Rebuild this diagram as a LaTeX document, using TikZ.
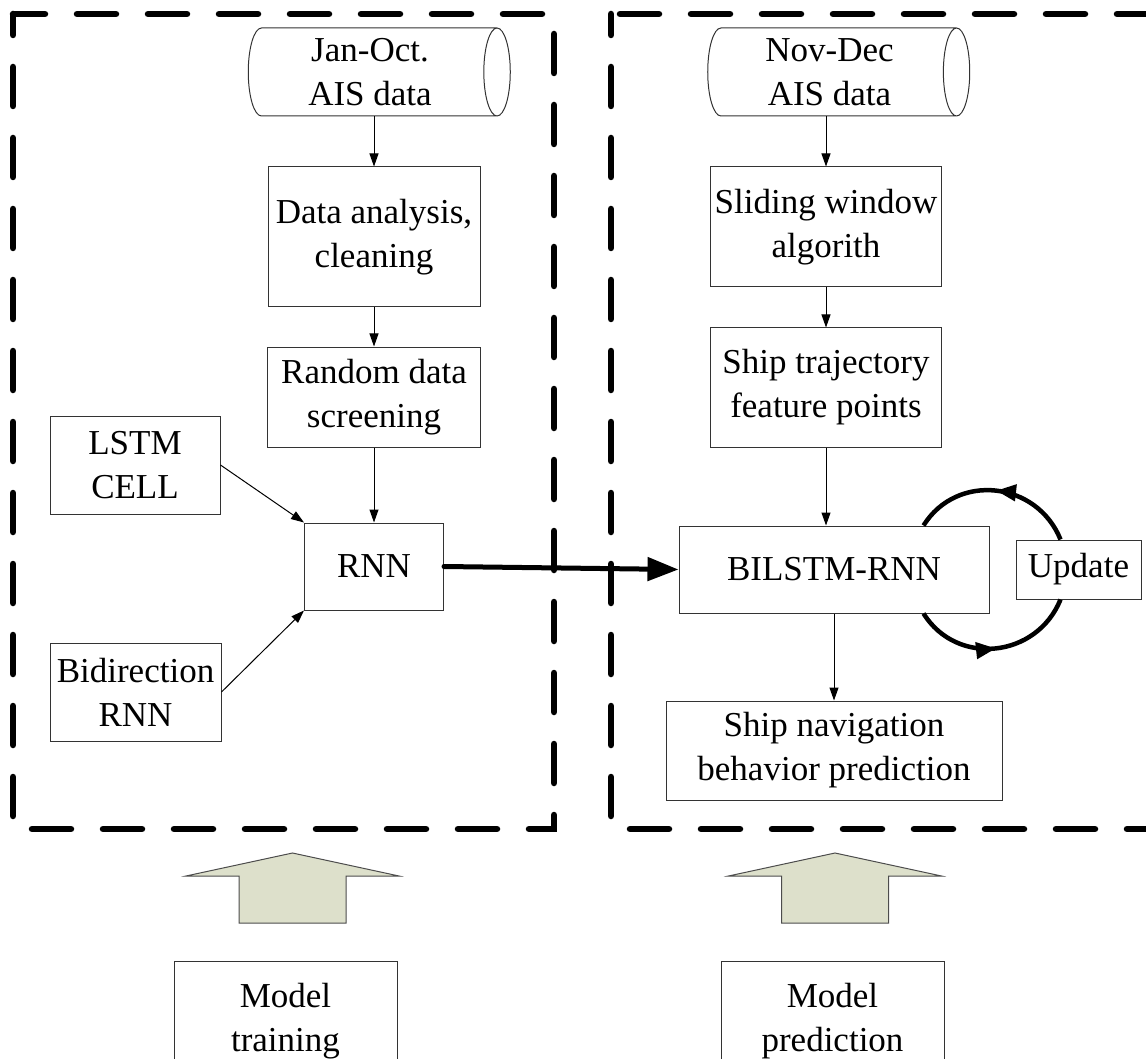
\documentclass[tikz,border=0pt]{standalone}
\usepackage{fontspec}
\setmainfont{Liberation Serif}
\usetikzlibrary{arrows.meta,shapes.geometric,decorations.markings}
\definecolor{armfill}{RGB}{221,224,203}

\tikzset{
  box/.style={draw=black!80, line width=1pt, align=center, inner sep=3pt,
    font=\fontsize{35}{44}\selectfont},
  dbase/.style={box, cylinder, aspect=0.36, minimum width=88pt, minimum height=262pt},
  flow/.style={-{Triangle[length=13pt,width=9pt]}, line width=1pt},
  bigflow/.style={-{Triangle[length=31pt,width=23pt]}, line width=5pt, line cap=round},
  loopline/.style={line width=4.5pt, postaction={decorate},
    decoration={markings, mark=at position 0.5 with {\arrow{Triangle[length=20pt,width=16pt]}}}},
  stage/.style={line width=6.5pt, line cap=round, dash pattern=on 39pt off 32pt, dash phase=18pt},
  blockarr/.style={draw=black!70, line width=1pt, fill=armfill},
}

\begin{document}
\begin{tikzpicture}[x=1pt,y=1pt]
\useasboundingbox (0,0) rectangle (1146,-1059);

% the two stages
\draw[stage] (13,-14) rectangle (554,-829);
\draw[stage] (611,-14) rectangle (1160,-829);

% training side
\node[dbase] (jan) at (370,-72) {Jan-Oct.\\AIS data};
\node[box, minimum width=212pt, minimum height=140pt] (clean) at (374,-237) {Data analysis,\\cleaning};
\node[box, minimum width=213pt, minimum height=100pt] (screen) at (374,-397) {Random data\\screening};
\node[box, minimum width=170pt, minimum height=98pt] (lstm) at (135,-465) {LSTM\\CELL};
\node[box, minimum width=171pt, minimum height=98pt] (bidir) at (135.5,-692) {Bidirection\\RNN};
\node[box, minimum width=139pt, minimum height=87pt] (rnn) at (374,-566.5) {RNN};

\draw[flow] (clean.north |- jan.south) -- (clean.north);
\draw[flow] (clean.south) -- (screen.north);
\draw[flow] (screen.south) -- (rnn.north);
\draw[flow] (lstm.east) -- (rnn.north west);
\draw[flow] (bidir.east) -- (rnn.south west);

% prediction side
\node[dbase] (nov) at (829.5,-72) {Nov-Dec\\AIS data};
\node[box, minimum width=231pt, minimum height=120pt] (slide) at (826,-227) {Sliding window\\algorith};
\node[box, minimum width=231pt, minimum height=119pt] (traj) at (826,-387.5) {Ship trajectory\\feature points};
\node[box, minimum width=310pt, minimum height=87pt] (bilstm) at (834,-569.5) {BILSTM-RNN};
\node[box, minimum width=125pt, minimum height=59pt] (update) at (1078.5,-569.5) {Update};
\node[box, minimum width=336pt, minimum height=99pt] (nav) at (834,-750.5) {Ship navigation\\behavior prediction};

\draw[flow] (slide.north |- nov.south) -- (slide.north);
\draw[flow] (slide.south) -- (traj.north);
\draw[flow] (traj.south) -- (traj.south |- bilstm.north);
\draw[flow] (bilstm.south) -- (bilstm.south |- nav.north);

\draw[bigflow] (rnn.east) -- (bilstm.west);

% update loop
\draw[loopline] ([xshift=-18pt]update.north) to[out=112, in=58, looseness=1.17] ([xshift=-66pt]bilstm.north east);
\draw[loopline] ([xshift=-66pt]bilstm.south east) to[out=-58, in=-112, looseness=1.17] ([xshift=-18pt]update.south);

% stage labels
\foreach \cx in {292.5,835}
  \draw[blockarr] (\cx-106.5,-876) -- (\cx,-853) -- (\cx+106.5,-876) -- (\cx+53.5,-876)
    -- (\cx+53.5,-923) -- (\cx-53.5,-923) -- (\cx-53.5,-876) -- cycle;
\node[box, anchor=north, minimum width=223pt, minimum height=120pt] (train) at (285.5,-961) {Model\\training};
\node[box, anchor=north, minimum width=223pt, minimum height=120pt] (pred) at (832.5,-961) {Model\\prediction};
\end{tikzpicture}
\end{document}
